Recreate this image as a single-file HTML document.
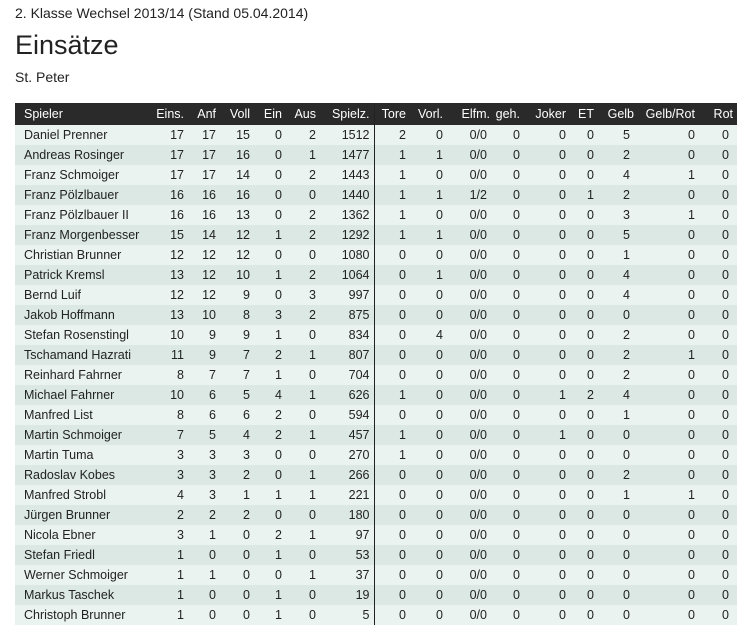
<!DOCTYPE html>
<html><head><meta charset="utf-8"><style>
body{margin:0;background:#fff;font-family:"Liberation Sans",Arial,sans-serif;color:#222;width:748px;height:632px;overflow:hidden;position:relative}
.t1{position:absolute;left:15px;top:5px;font-size:14px}
.t2{position:absolute;left:15px;top:30px;font-size:27px}
.t3{position:absolute;left:15px;top:69px;font-size:14px}
table{position:absolute;left:15px;top:103px;border-collapse:collapse;table-layout:fixed;width:722px;font-size:12.5px}
th{background:#2a2a2a;color:#fff;font-weight:normal;height:22px;padding:0 4px 0 0;text-align:right}
td{height:20px;padding:0 4px 0 0;text-align:right}
th:first-child,td:first-child{text-align:left;padding-left:9px}
tr:nth-child(odd) td{background:#eaf3ef}
tr:nth-child(even) td{background:#dbe8e3}
td:nth-child(7),th:nth-child(7){border-right:1px solid #222}
td:nth-child(10){padding-right:7px}
td:nth-child(14){padding-right:8px}
td:nth-child(16){padding-right:8px}
</style></head><body>
<div class="t1">2. Klasse Wechsel 2013/14 (Stand 05.04.2014)</div>
<div class="t2">Einsätze</div>
<div class="t3">St. Peter</div>
<table>
<colgroup><col style="width:135px"><col style="width:38px"><col style="width:32px"><col style="width:34px"><col style="width:32px"><col style="width:34px"><col style="width:54px"><col style="width:36px"><col style="width:37px"><col style="width:47px"><col style="width:30px"><col style="width:46px"><col style="width:28px"><col style="width:40px"><col style="width:61px"><col style="width:38px"></colgroup>
<thead><tr><th>Spieler</th><th>Eins.</th><th>Anf</th><th>Voll</th><th>Ein</th><th>Aus</th><th>Spielz.</th><th>Tore</th><th>Vorl.</th><th>Elfm.</th><th>geh.</th><th>Joker</th><th>ET</th><th>Gelb</th><th>Gelb/Rot</th><th>Rot</th></tr></thead>
<tbody>
<tr><td>Daniel Prenner</td><td>17</td><td>17</td><td>15</td><td>0</td><td>2</td><td>1512</td><td>2</td><td>0</td><td>0/0</td><td>0</td><td>0</td><td>0</td><td>5</td><td>0</td><td>0</td></tr>
<tr><td>Andreas Rosinger</td><td>17</td><td>17</td><td>16</td><td>0</td><td>1</td><td>1477</td><td>1</td><td>1</td><td>0/0</td><td>0</td><td>0</td><td>0</td><td>2</td><td>0</td><td>0</td></tr>
<tr><td>Franz Schmoiger</td><td>17</td><td>17</td><td>14</td><td>0</td><td>2</td><td>1443</td><td>1</td><td>0</td><td>0/0</td><td>0</td><td>0</td><td>0</td><td>4</td><td>1</td><td>0</td></tr>
<tr><td>Franz Pölzlbauer</td><td>16</td><td>16</td><td>16</td><td>0</td><td>0</td><td>1440</td><td>1</td><td>1</td><td>1/2</td><td>0</td><td>0</td><td>1</td><td>2</td><td>0</td><td>0</td></tr>
<tr><td>Franz Pölzlbauer II</td><td>16</td><td>16</td><td>13</td><td>0</td><td>2</td><td>1362</td><td>1</td><td>0</td><td>0/0</td><td>0</td><td>0</td><td>0</td><td>3</td><td>1</td><td>0</td></tr>
<tr><td>Franz Morgenbesser</td><td>15</td><td>14</td><td>12</td><td>1</td><td>2</td><td>1292</td><td>1</td><td>1</td><td>0/0</td><td>0</td><td>0</td><td>0</td><td>5</td><td>0</td><td>0</td></tr>
<tr><td>Christian Brunner</td><td>12</td><td>12</td><td>12</td><td>0</td><td>0</td><td>1080</td><td>0</td><td>0</td><td>0/0</td><td>0</td><td>0</td><td>0</td><td>1</td><td>0</td><td>0</td></tr>
<tr><td>Patrick Kremsl</td><td>13</td><td>12</td><td>10</td><td>1</td><td>2</td><td>1064</td><td>0</td><td>1</td><td>0/0</td><td>0</td><td>0</td><td>0</td><td>4</td><td>0</td><td>0</td></tr>
<tr><td>Bernd Luif</td><td>12</td><td>12</td><td>9</td><td>0</td><td>3</td><td>997</td><td>0</td><td>0</td><td>0/0</td><td>0</td><td>0</td><td>0</td><td>4</td><td>0</td><td>0</td></tr>
<tr><td>Jakob Hoffmann</td><td>13</td><td>10</td><td>8</td><td>3</td><td>2</td><td>875</td><td>0</td><td>0</td><td>0/0</td><td>0</td><td>0</td><td>0</td><td>0</td><td>0</td><td>0</td></tr>
<tr><td>Stefan Rosenstingl</td><td>10</td><td>9</td><td>9</td><td>1</td><td>0</td><td>834</td><td>0</td><td>4</td><td>0/0</td><td>0</td><td>0</td><td>0</td><td>2</td><td>0</td><td>0</td></tr>
<tr><td>Tschamand Hazrati</td><td>11</td><td>9</td><td>7</td><td>2</td><td>1</td><td>807</td><td>0</td><td>0</td><td>0/0</td><td>0</td><td>0</td><td>0</td><td>2</td><td>1</td><td>0</td></tr>
<tr><td>Reinhard Fahrner</td><td>8</td><td>7</td><td>7</td><td>1</td><td>0</td><td>704</td><td>0</td><td>0</td><td>0/0</td><td>0</td><td>0</td><td>0</td><td>2</td><td>0</td><td>0</td></tr>
<tr><td>Michael Fahrner</td><td>10</td><td>6</td><td>5</td><td>4</td><td>1</td><td>626</td><td>1</td><td>0</td><td>0/0</td><td>0</td><td>1</td><td>2</td><td>4</td><td>0</td><td>0</td></tr>
<tr><td>Manfred List</td><td>8</td><td>6</td><td>6</td><td>2</td><td>0</td><td>594</td><td>0</td><td>0</td><td>0/0</td><td>0</td><td>0</td><td>0</td><td>1</td><td>0</td><td>0</td></tr>
<tr><td>Martin Schmoiger</td><td>7</td><td>5</td><td>4</td><td>2</td><td>1</td><td>457</td><td>1</td><td>0</td><td>0/0</td><td>0</td><td>1</td><td>0</td><td>0</td><td>0</td><td>0</td></tr>
<tr><td>Martin Tuma</td><td>3</td><td>3</td><td>3</td><td>0</td><td>0</td><td>270</td><td>1</td><td>0</td><td>0/0</td><td>0</td><td>0</td><td>0</td><td>0</td><td>0</td><td>0</td></tr>
<tr><td>Radoslav Kobes</td><td>3</td><td>3</td><td>2</td><td>0</td><td>1</td><td>266</td><td>0</td><td>0</td><td>0/0</td><td>0</td><td>0</td><td>0</td><td>2</td><td>0</td><td>0</td></tr>
<tr><td>Manfred Strobl</td><td>4</td><td>3</td><td>1</td><td>1</td><td>1</td><td>221</td><td>0</td><td>0</td><td>0/0</td><td>0</td><td>0</td><td>0</td><td>1</td><td>1</td><td>0</td></tr>
<tr><td>Jürgen Brunner</td><td>2</td><td>2</td><td>2</td><td>0</td><td>0</td><td>180</td><td>0</td><td>0</td><td>0/0</td><td>0</td><td>0</td><td>0</td><td>0</td><td>0</td><td>0</td></tr>
<tr><td>Nicola Ebner</td><td>3</td><td>1</td><td>0</td><td>2</td><td>1</td><td>97</td><td>0</td><td>0</td><td>0/0</td><td>0</td><td>0</td><td>0</td><td>0</td><td>0</td><td>0</td></tr>
<tr><td>Stefan Friedl</td><td>1</td><td>0</td><td>0</td><td>1</td><td>0</td><td>53</td><td>0</td><td>0</td><td>0/0</td><td>0</td><td>0</td><td>0</td><td>0</td><td>0</td><td>0</td></tr>
<tr><td>Werner Schmoiger</td><td>1</td><td>1</td><td>0</td><td>0</td><td>1</td><td>37</td><td>0</td><td>0</td><td>0/0</td><td>0</td><td>0</td><td>0</td><td>0</td><td>0</td><td>0</td></tr>
<tr><td>Markus Taschek</td><td>1</td><td>0</td><td>0</td><td>1</td><td>0</td><td>19</td><td>0</td><td>0</td><td>0/0</td><td>0</td><td>0</td><td>0</td><td>0</td><td>0</td><td>0</td></tr>
<tr><td>Christoph Brunner</td><td>1</td><td>0</td><td>0</td><td>1</td><td>0</td><td>5</td><td>0</td><td>0</td><td>0/0</td><td>0</td><td>0</td><td>0</td><td>0</td><td>0</td><td>0</td></tr>
</tbody></table>
</body></html>
